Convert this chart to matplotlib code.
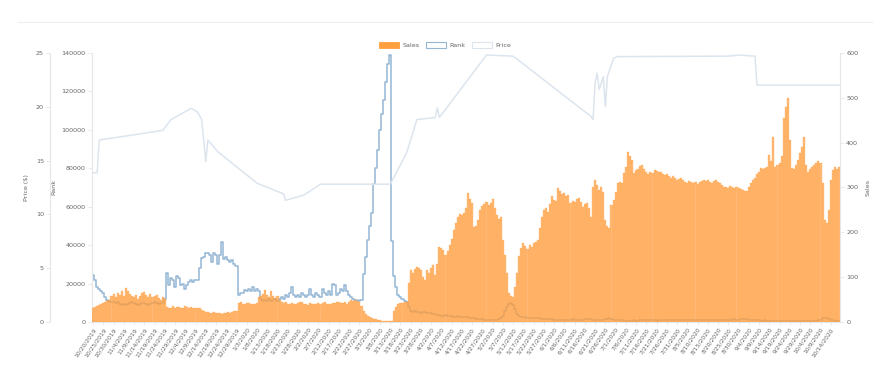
import numpy as np
import pandas as pd
import matplotlib
matplotlib.use("Agg")
import matplotlib.pyplot as plt
from matplotlib.patches import Patch
from matplotlib.lines import Line2D

# daily data, 10/20/2019 .. 10/18/2020
start_date = "2019-10-20"

sales = [
    30, 34, 36, 38, 40, 42, 44, 47, 50, 58,
    62, 55, 65, 60, 70, 58, 76, 68, 62, 57,
    55, 60, 52, 58, 64, 66, 60, 56, 62, 55,
    58, 60, 54, 50, 56, 52, 34, 30, 32, 35,
    31, 33, 34, 30, 32, 35, 33, 31, 34, 30,
    32, 31, 30, 26, 24, 22, 23, 21, 20, 22,
    19, 21, 20, 18, 20, 19, 22, 21, 23, 24,
    25, 42, 44, 41, 40, 43, 42, 39, 41, 40,
    43, 55, 58, 62, 72, 60, 56, 68, 58, 54,
    57, 48, 45, 42, 44, 40, 41, 43, 39, 40,
    42, 45, 44, 41, 40, 38, 42, 40, 39, 41,
    43, 40, 42, 44, 41, 39, 40, 43, 42, 44,
    45, 43, 42, 44, 40, 45, 48, 46, 50, 47,
    45, 35, 25, 18, 14, 11, 9, 7, 6, 5,
    4, 3, 3, 2, 2, 2, 3, 25, 34, 40,
    42, 43, 44, 45, 87, 116, 110, 118, 123, 120,
    115, 100, 94, 116, 110, 120, 127, 105, 130, 168,
    165, 160, 150, 158, 172, 185, 205, 220, 235, 240,
    238, 243, 255, 288, 275, 265, 212, 215, 228, 250,
    258, 262, 268, 260, 265, 274, 255, 239, 230, 235,
    183, 150, 109, 65, 58, 56, 79, 110, 146, 165,
    176, 170, 162, 172, 168, 175, 179, 182, 210, 235,
    250, 255, 245, 262, 280, 272, 270, 299, 292, 285,
    288, 280, 283, 265, 270, 268, 275, 277, 268, 257,
    262, 265, 255, 235, 302, 317, 305, 294, 300, 290,
    228, 215, 210, 261, 272, 290, 310, 312, 310, 332,
    345, 380, 370, 361, 332, 338, 342, 348, 350, 340,
    335, 330, 335, 332, 338, 336, 335, 334, 330, 328,
    330, 325, 322, 326, 320, 317, 318, 320, 316, 312,
    310, 314, 312, 309, 311, 308, 312, 315, 317, 314,
    316, 312, 310, 314, 316, 313, 310, 306, 302, 300,
    299, 303, 301, 298, 300, 299, 297, 295, 293, 291,
    300, 310, 317, 322, 330, 335, 343, 340, 343, 345,
    372, 360, 413, 346, 350, 355, 370, 455, 480, 499,
    406, 343, 340, 350, 361, 377, 390, 413, 350, 335,
    340, 345, 350, 354, 360, 355, 310, 228, 221, 250,
    317, 339, 345, 342, 346,
]

# rank in thousands
rank_k = [
    24.5, 22, 18.4, 17, 16, 15, 13, 11.4, 11, 10.5,
    10.2, 9.8, 10.5, 9.5, 9, 9.2, 8.8, 9.5, 10, 10.3,
    9.6, 9.1, 8.7, 9.4, 10.1, 9.8, 9.2, 8.9, 9.5, 10,
    10.4, 9.7, 9.3, 9.9, 10, 12, 25.3, 19, 23, 22,
    18, 24, 23, 19, 20, 17, 19, 21, 22, 21,
    22, 22, 28, 33.3, 34, 35.9, 36, 35, 31, 36,
    35, 30, 35, 41.8, 33, 34, 32, 31, 32, 30,
    29, 14, 15, 15, 16.6, 16, 17, 16, 18, 16,
    17, 16, 12, 11, 11.4, 11, 12, 11, 11.5, 12,
    11, 12, 13, 12, 14, 13, 15, 18.4, 14, 13,
    14, 13, 15, 14, 13, 14, 17, 14, 13, 15,
    14, 13, 17, 15, 14, 16, 14, 20, 19, 14,
    15, 17, 16, 19, 16, 14, 13, 12, 11.5, 11.4,
    11, 11.4, 25, 34, 42.7, 50, 56.6, 72, 80, 89.5,
    100, 108, 115.5, 125, 134, 139, 42, 24, 18, 14,
    13, 12, 11, 10.5, 8, 5.5, 5.2, 5.5, 5, 5.3,
    4.8, 5.2, 5, 4.6, 4.8, 4.5, 4.2, 4, 3.8, 3.5,
    3.3, 3.2, 3.5, 3, 2.9, 3.1, 2.8, 2.6, 2.9, 2.7,
    2.5, 2.6, 2.4, 2.5, 2.2, 2.0, 1.8, 1.6, 1.5, 1.4,
    1.3, 1.2, 1.2, 1.1, 1.0, 1.0, 1.1, 1.2, 1.4, 1.8,
    3.0, 5.5, 8.0, 9.5, 9.9, 9.0, 6.5, 4.0, 3.2, 2.8,
    2.5, 2.4, 2.2, 2.3, 2.1, 2.0, 1.9, 2.0, 1.8, 1.6,
    1.5, 1.5, 1.4, 1.3, 1.3, 1.2, 1.2, 1.1, 1.2, 1.1,
    1.0, 1.0, 1.1, 1.2, 1.3, 1.2, 1.1, 1.0, 1.1, 1.2,
    1.3, 1.4, 1.5, 1.6, 1.2, 1.0, 0.9, 1.0, 1.1, 1.0,
    1.3, 1.6, 1.8, 1.4, 1.2, 1.0, 0.9, 0.8, 0.8, 0.7,
    0.7, 0.6, 0.6, 0.7, 0.8, 0.7, 0.7, 0.8, 0.8, 0.8,
    0.9, 0.8, 0.8, 0.9, 0.8, 0.7, 0.8, 0.9, 0.9, 0.8,
    0.8, 0.9, 1.0, 0.9, 0.8, 0.8, 0.9, 0.9, 1.0, 1.0,
    0.9, 0.9, 1.0, 1.1, 1.0, 0.9, 0.9, 1.0, 1.0, 0.9,
    0.9, 1.0, 1.0, 1.1, 1.1, 1.0, 1.0, 1.1, 1.2, 1.2,
    1.1, 1.2, 1.2, 1.3, 1.2, 1.2, 1.3, 1.3, 1.4, 1.3,
    1.2, 1.1, 1.0, 0.9, 0.8, 0.8, 0.7, 0.7, 0.8, 0.7,
    0.6, 0.6, 0.5, 0.6, 0.6, 0.5, 0.5, 0.4, 0.4, 0.4,
    0.5, 0.6, 0.6, 0.5, 0.5, 0.5, 0.4, 0.4, 0.5, 0.6,
    0.6, 0.6, 0.5, 0.6, 0.8, 1.2, 1.8, 2.2, 2.0, 1.5,
    1.0, 0.8, 0.7, 0.7, 0.7,
]

# price is only recorded on some days
price_day = [0, 2, 3, 34, 38, 48, 51, 53, 54, 55, 56, 61, 80, 93, 94, 103, 111,
             145, 147, 153, 155, 158, 167, 168, 169, 192, 205, 243, 244, 245,
             246, 247, 249, 250, 251, 254, 256, 310, 315, 323, 324, 364]
price = [13.86, 13.86, 16.9, 17.8, 18.8, 19.86, 19.5, 18.8, 16.9, 14.9, 16.9,
         15.8, 12.9, 11.9, 11.3, 11.8, 12.8, 12.8, 13.5, 15.7, 16.9, 18.8,
         19.0, 19.9, 19.0, 24.8, 24.7, 19.1, 18.8, 22.2, 23.1, 21.6, 22.8,
         20.0, 22.8, 24.5, 24.66, 24.7, 24.8, 24.7, 22.0, 22.0]

n = len(sales)
dates = pd.date_range(start_date, periods=n, freq="D")
labels = [f"{d.month}/{d.day}/{d.year}" for d in dates]
x = np.arange(n)

txt = "#666666"
axc = "#e6e6e6"
orange = "#ff9f40"
rank_c = "#93b6d5"
price_c = "#dce5ee"

fig = plt.figure(figsize=(8.9, 3.65), dpi=100)
ax_rank = fig.add_axes([0.1034, 0.118, 0.8404, 0.737])
ax_price = ax_rank.twinx()
ax_sales = ax_rank.twinx()

ax_rank.plot(x, np.array(rank_k) * 1000, color=rank_c, lw=1.1, drawstyle="steps-mid")
ax_price.plot(price_day, price, color=price_c, lw=1.1)
ax_sales.bar(x, sales, width=1.0, color=orange, alpha=0.72,
             edgecolor="#ff9a36", linewidth=0.25)

ax_rank.set_xlim(-0.5, n - 0.5)
ax_rank.set_ylim(0, 140000)
ax_price.set_ylim(0, 25)
ax_sales.set_ylim(0, 600)

ax_rank.set_yticks(np.arange(0, 140001, 20000))
ax_price.set_yticks(np.arange(0, 26, 5))
ax_sales.set_yticks(np.arange(0, 601, 100))

# price axis sits further left
ax_price.yaxis.tick_left()
ax_price.yaxis.set_label_position("left")
ax_price.spines["left"].set_position(("axes", -0.056))

ax_rank.set_xticks(x[::5])
ax_rank.set_xticklabels(labels[::5], rotation=55, ha="right",
                        rotation_mode="anchor", fontsize=4.3, color=txt)

for ax in (ax_rank, ax_price, ax_sales):
    for s in ax.spines.values():
        s.set_visible(False)
    ax.tick_params(axis="y", labelsize=4.6, colors=txt, length=3, width=0.6,
                   color=axc, pad=1.5)
    ax.tick_params(axis="x", length=2, width=0.6, color=axc, pad=1.5)

ax_rank.spines["left"].set_visible(True)
ax_rank.spines["bottom"].set_visible(True)
ax_price.spines["left"].set_visible(True)
ax_sales.spines["right"].set_visible(True)
for s in (ax_rank.spines["left"], ax_rank.spines["bottom"],
          ax_price.spines["left"], ax_sales.spines["right"]):
    s.set_color(axc)
    s.set_linewidth(0.8)

ax_price.set_ylabel("Price ($)", fontsize=4.6, color=txt)
ax_rank.set_ylabel("Rank", fontsize=4.6, color=txt)
ax_sales.set_ylabel("Sales", fontsize=4.6, color=txt)
ax_price.yaxis.set_label_coords(-0.084, 0.5)
ax_rank.yaxis.set_label_coords(-0.047, 0.5)
ax_sales.yaxis.set_label_coords(1.034, 0.5)

handles = [Patch(facecolor=orange, edgecolor=orange, linewidth=0.6),
           Patch(facecolor="white", edgecolor=rank_c, linewidth=0.8),
           Patch(facecolor="white", edgecolor=price_c, linewidth=0.8)]
leg = fig.legend(handles, ["Sales", "Rank", "Price"], loc="center",
                 bbox_to_anchor=(0.5, 0.877), ncol=3, frameon=False,
                 fontsize=4.6, handlelength=3.2, handleheight=1.0,
                 columnspacing=1.0, handletextpad=0.5)
for t in leg.get_texts():
    t.set_color(txt)

# card border at top
fig.add_artist(Line2D([0.02, 0.98], [0.94, 0.94], color="#eeeeee", lw=0.8))

plt.savefig("out.png", dpi=100)
